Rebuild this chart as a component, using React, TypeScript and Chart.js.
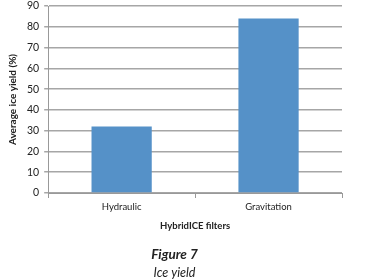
import React, { useEffect, useRef } from "react";
import { Chart, registerables } from "chart.js";

Chart.register(...registerables);

const categories = ["Hydraulic", "Gravitation"];
const iceYield = [32, 84];
const yTitle = "Average ice yield (%)";
const xTitle = "HybridICE filters";
const figureLabel = "Figure 7";
const caption = "Ice yield";

export default function App() {
  const ref = useRef<HTMLCanvasElement | null>(null);
  useEffect(() => {
    if (!ref.current) return;
    const font = "Lato, 'Open Sans', sans-serif";
    const chart = new Chart(ref.current, {
      type: "bar",
      data: {
        labels: categories,
        datasets: [
          {
            data: iceYield,
            backgroundColor: "#5591c8",
            barPercentage: 0.41,
            categoryPercentage: 1,
          },
        ],
      },
      options: {
        animation: false,
        responsive: false,
        layout: { padding: { left: 7, right: 28, top: 1, bottom: 0 } },
        plugins: {
          legend: { display: false },
          tooltip: { enabled: false },
          title: {
            display: true,
            position: "bottom",
            text: caption,
            color: "#222",
            font: { family: font, size: 12.5, style: "italic", weight: "normal" },
            padding: { top: 0, bottom: 0 },
          },
          subtitle: {
            display: true,
            position: "bottom",
            text: figureLabel,
            color: "#222",
            font: { family: font, size: 13.5, style: "italic", weight: "bold" },
            padding: { top: 15, bottom: 2 },
          },
        },
        scales: {
          x: {
            grid: {
              offset: true,
              drawOnChartArea: false,
              drawTicks: true,
              tickLength: 5,
              color: "#999",
            },
            border: { color: "#999", width: 1 },
            ticks: { color: "#222", font: { family: font, size: 9.5 }, padding: 3 },
            title: {
              display: true,
              text: xTitle,
              color: "#222",
              font: { family: font, size: 9.5, weight: "bold" },
              padding: { top: 5, bottom: 0 },
            },
          },
          y: {
            min: 0,
            max: 90,
            afterFit: (scale: any) => {
              scale.paddingTop = 6;
            },
            ticks: { stepSize: 10, color: "#222", font: { family: font, size: 10.5 }, padding: 5 },
            grid: { color: "#a6a6a6", lineWidth: 1.5, drawTicks: true, tickLength: 4 },
            border: { color: "#999", width: 1 },
            title: {
              display: true,
              text: yTitle,
              color: "#222",
              font: { family: font, size: 10, weight: "bold" },
              padding: { top: 0, bottom: 3 },
            },
          },
        },
      },
    });
    return () => chart.destroy();
  }, []);
  return (
    <div style={{ position: "fixed", left: 0, top: 0, width: 370, height: 280, background: "#fff" }}>
      <canvas ref={ref} width={370} height={280} style={{ width: 370, height: 280 }} />
    </div>
  );
}
